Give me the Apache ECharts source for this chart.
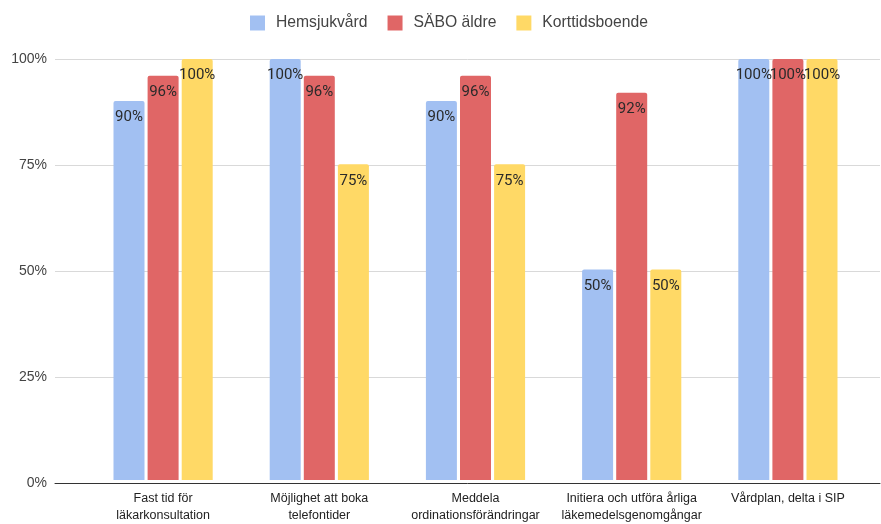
<!DOCTYPE html>
<html><head><meta charset="utf-8">
<script src="https://cdn.jsdelivr.net/npm/echarts@6/dist/echarts.min.js"></script>
<style>html,body{margin:0;padding:0;background:#fff}#c{width:881px;height:524px}</style>
</head><body><div id="c"></div>
<script>
const categories = ["Fast tid för\nläkarkonsultation","Möjlighet att boka\ntelefontider","Meddela\nordinationsförändringar","Initiera och utföra årliga\nläkemedelsgenomgångar","Vårdplan, delta i SIP"];
const seriesNames = ["Hemsjukvård","SÄBO äldre","Korttidsboende"];
const hemsjukvard = [90,100,90,50,100];
const sabo = [96,96,96,92,100];
const korttid = [100,75,75,50,100];
const colors = ["#a2c0f2","#e06666","#ffd966"];

const chart = echarts.init(document.getElementById('c'));
const label = {show:true, position:'insideTop', distance:9, formatter:'{c}%', color:'#2a2a2a', fontSize:15, fontFamily:'Roboto'};
const mk = (name, data, i) => ({name, type:'bar', data, xAxisIndex:1, yAxisIndex:1, barWidth:31, barGap:'10%',
  itemStyle:{color:colors[i], borderRadius:[2,2,0,0]}, label});
chart.setOption({
  animation:false,
  color: colors,
  legend:{top:10, left:245, itemWidth:15, itemHeight:15, itemGap:20, icon:'rect',
    textStyle:{color:'#444', fontSize:15.7, fontFamily:'Liberation Sans', padding:[0,0,0,6]}, data:seriesNames},
  grid:[{left:55, right:1, top:59, bottom:41},{left:85, right:15, top:59, bottom:41}],
  xAxis:[
    {gridIndex:0, type:'value', min:0, max:1, axisLine:{show:true, lineStyle:{color:'#333', width:1}}, axisLabel:{show:false}, axisTick:{show:false}, splitLine:{show:false}},
    {gridIndex:1, type:'category', data:categories, axisLine:{show:false}, axisTick:{show:false},
      axisLabel:{color:'#222', fontSize:12.5, lineHeight:17, margin:10, fontFamily:'Liberation Sans', interval:0}}
  ],
  yAxis:[
    {gridIndex:0, type:'value', min:0, max:100, interval:25, axisLabel:{formatter:'{value}%', color:'#444', fontSize:14, margin:8, fontFamily:'Liberation Sans'},
      axisLine:{show:false}, axisTick:{show:false}, splitLine:{lineStyle:{color:'#d9d9d9'}}},
    {gridIndex:1, type:'value', min:0, max:100, interval:25, show:false, splitLine:{show:false}}
  ],
  series:[mk(seriesNames[0], hemsjukvard, 0), mk(seriesNames[1], sabo, 1), mk(seriesNames[2], korttid, 2)]
});
</script></body></html>
